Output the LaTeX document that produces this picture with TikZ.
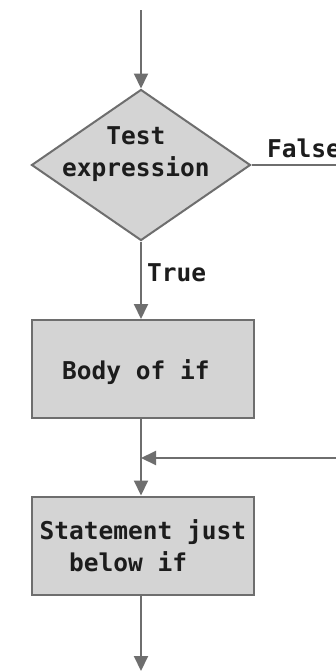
\documentclass[tikz,border=0pt]{standalone}
\usepackage{fontspec}
\setmonofont{DejaVu Sans Mono}
\usetikzlibrary{shapes.geometric,arrows.meta}
\definecolor{edgegrey}{HTML}{6E6E6E}
\definecolor{boxfill}{HTML}{D4D4D4}
\definecolor{inkdark}{HTML}{1C1C1C}
\begin{document}
\begin{tikzpicture}[x=1pt,y=-1pt,
  every node/.style={font=\ttfamily\bfseries\fontsize{24.5}{32}\selectfont, text=inkdark},
  decision/.style={diamond, draw=edgegrey, fill=boxfill, line width=2pt,
    minimum width=219pt, minimum height=151pt, inner sep=0pt},
  process/.style={rectangle, draw=edgegrey, fill=boxfill, line width=2pt,
    minimum width=222pt, minimum height=98pt, inner sep=0pt},
  flow/.style={draw=edgegrey, line width=2pt, -{Triangle[length=15pt,width=14pt]}},
  plain/.style={draw=edgegrey, line width=2pt}]
  \useasboundingbox (0,0) rectangle (336,672);
  \clip (0,0) rectangle (336,672);
  \fill[white] (0,0) rectangle (336,672);

  % flowchart nodes
  \node[decision] (test) at (141,165) {};
  \node[align=center, inner sep=0pt] (testtxt) at (136,154) {Test\\expression};
  \node[process] (body) at (143,369) {};
  \node[inner sep=0pt] (bodytxt) at (136,372) {Body of if};
  \node[process] (stmt) at (143,545.5) {};
  \node[align=left, inner sep=0pt] (stmttxt) at (143,546) {Statement just\\\phantom{xx}below if};

  % free ends and the merge point
  \coordinate (entry) at (141,10);
  \coordinate (falseend) at (345,165);
  \coordinate (rejoin) at (345,458);
  \coordinate (merge) at (141,458);
  \coordinate (exit) at (141,671);

  % connectors
  \draw[flow] (entry) -- (test.north);
  \draw[plain] (test.east) -- (falseend);
  \draw[flow] (test.south) -- (test.south |- body.north);
  \draw[flow] (test.south |- body.south) -- (test.south |- stmt.north);
  \draw[flow] (rejoin) -- (merge);
  \draw[flow] (test.south |- stmt.south) -- (exit);

  % branch labels
  \node[anchor=west, inner sep=0pt] (truelbl) at (147,273) {True};
  \node[anchor=west, inner sep=0pt] (falselbl) at (267,148) {False};
\end{tikzpicture}
\end{document}
